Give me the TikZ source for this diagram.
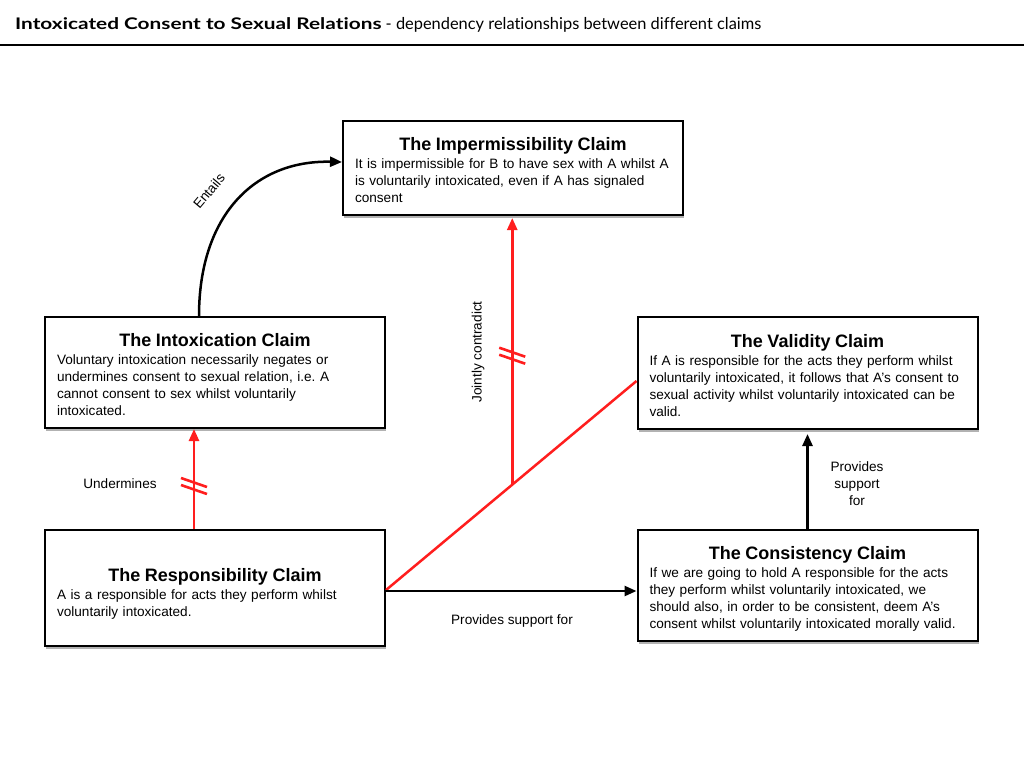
\documentclass[tikz,border=0pt]{standalone}
\usepackage{fontspec}
\setmainfont{Liberation Sans}
\newfontfamily\titlefont[Ligatures={NoCommon,NoDiscretionary}]{Lato}
\newfontfamily\titlewide[FakeStretch=1.3,Ligatures={NoCommon,NoDiscretionary}]{Lato}
\usetikzlibrary{arrows.meta,shadows,calc}
\definecolor{cred}{RGB}{255,30,30}
\newcommand\hd[2][0pt]{{\centering\fontsize{18}{21}\selectfont\bfseries\rule{0pt}{\dimexpr 13.5pt+#1\relax}#2\par}\vspace{1pt}\leftskip=6pt\relax}
\tikzset{
  box/.style={draw=black, line width=2pt, fill=white, minimum width=340pt,
    text width=328pt, inner xsep=6pt, inner ysep=4pt,
    font=\fontsize{13.6}{17}\selectfont\raggedright,
    drop shadow={shadow xshift=1pt, shadow yshift=-3pt, opacity=0.3, fill=black}},
  blkarrow/.style={draw=black, line width=2.5pt, -{Triangle[length=12pt,width=10pt]}},
  redarrow/.style={draw=cred, line width=2.5pt, -{Triangle[length=12pt,width=10pt]}},
  redline/.style={draw=cred, line width=2.5pt},
  lbl/.style={font=\fontsize{13.6}{17}\selectfont, inner sep=0pt},
  cutmark/.pic={\draw[cred, line width=2.6pt] (-13,-8) -- (13,1) (-13,-1) -- (13,8);}
}
\begin{document}
\begin{tikzpicture}[x=1pt,y=-1pt]
\useasboundingbox (0,0) rectangle (1024,768);
% title
\node[anchor=base west, inner sep=0pt, font=\fontsize{16}{20}\selectfont] (title) at (15,30)
  {{\titlewide\bfseries Intoxicated Consent to Sexual Relations}\titlefont\fontsize{16.4}{20}\selectfont{} - dependency relationships between different claims};
\coordinate (rl) at (0,45);
\coordinate (rr) at (1024,45);
\draw[line width=1.5pt] (rl) -- (rr);

% boxes
\node[box, minimum height=94pt] (imp) at (513,168)
  {\hd[4pt]{The Impermissibility Claim}It is impermissible for B to have sex with A whilst A\\
   is voluntarily intoxicated, even if A has signaled\\ consent\par};
\node[box, minimum height=111pt] (intox) at (215,372.5)
  {\hd[4pt]{The Intoxication Claim}Voluntary intoxication necessarily negates or\\
   undermines consent to sexual relation, i.e.\ A\\ cannot consent to sex whilst voluntarily\\ intoxicated.\par};
\node[box, minimum height=112pt] (val) at (807.5,373)
  {\hd[4pt]{The Validity Claim}If A is responsible for the acts they perform whilst\\
   voluntarily intoxicated, it follows that A's consent to\\ sexual activity whilst voluntarily intoxicated can be\\ valid.\par};
\node[box, minimum height=116pt] (resp) at (215,588)
  {\hd[12pt]{The Responsibility Claim}A is a responsible for acts they perform whilst\\ voluntarily intoxicated.\par};
\node[box, minimum height=111pt] (cons) at (807.5,585.5)
  {\hd[7pt]{The Consistency Claim}If we are going to hold A responsible for the acts\\
   they perform whilst voluntarily intoxicated, we\\ should also, in order to be consistent, deem A's\\
   consent whilst voluntarily intoxicated morally valid.\par};

% Entails
\draw[blkarrow] ([xshift=-16pt]intox.north) .. controls +(0,-100) and +(-88,-2) .. ([yshift=6pt]imp.west);
\node[lbl, rotate=50] (entails) at (209,191) {Entails};

% Undermines
\coordinate (ua) at ([xshift=-21pt]resp.north);
\coordinate (ub) at ([xshift=-21pt]intox.south);
\draw[redarrow] (ua) -- (ub);
\coordinate (ucut) at ($(ua)!0.43!(ub)$);
\pic at (ucut) {cutmark};
\node[lbl] (underm) at (120,484) {Undermines};

% Jointly contradict
\coordinate (ja) at ([yshift=-2pt]resp.east);
\coordinate (jb) at ([yshift=-8pt]val.west);
\draw[redline] (ja) -- (jb);
\coordinate (junc) at ($(ja)!0.504!(jb)$);
\coordinate (jtop) at (junc |- imp.south);
\draw[redarrow] (junc) -- ([yshift=-2pt]jtop);
\coordinate (jcut) at ($(junc)!0.48!(jtop)$);
\pic at (jcut) {cutmark};
\node[lbl, rotate=90] (joint) at (478,352) {Jointly contradict};

% Provides support for (horizontal)
\coordinate (pa) at ([yshift=-3pt]resp.east);
\draw[blkarrow] (pa) -- (pa -| cons.west);
\node[lbl] (ps1) at (512,621) {Provides support for};

% Provides support for (vertical)
\draw[blkarrow] (cons.north) -- ([yshift=-4pt]val.south);
\node[lbl, align=center] (ps2) at (857,484) {Provides\\ support\\ for};
\end{tikzpicture}
\end{document}
